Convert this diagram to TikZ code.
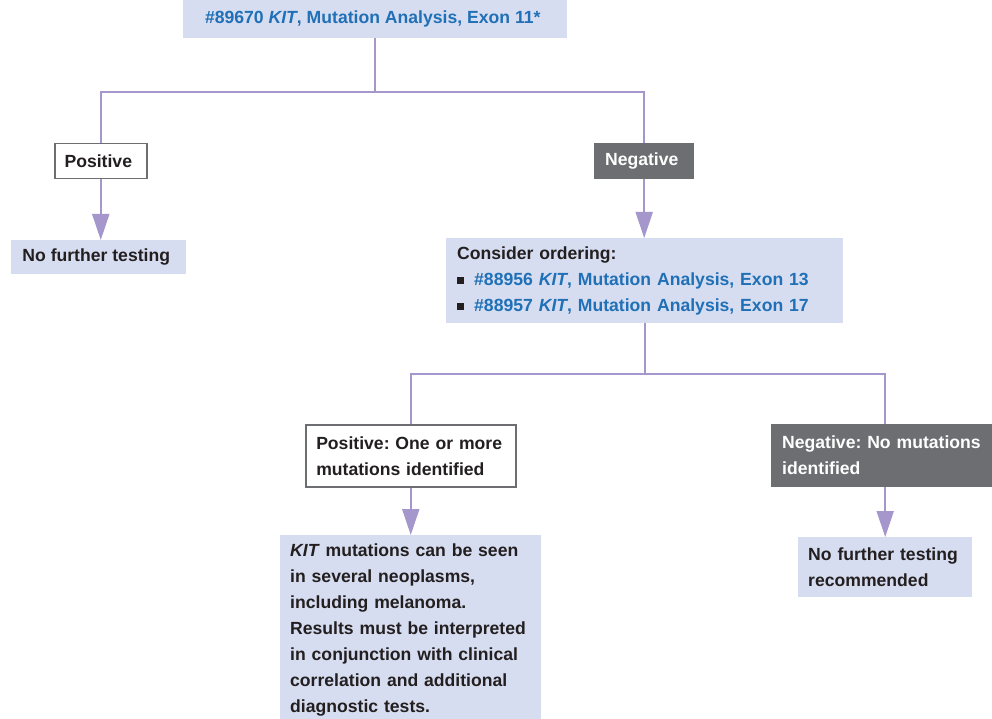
\documentclass[tikz,border=0pt]{standalone}
\usepackage{fontspec}
\setmainfont{Liberation Sans}
\usetikzlibrary{arrows.meta}

\definecolor{boxfill}{HTML}{D7DDF0}
\definecolor{testblue}{HTML}{1F70B6}
\definecolor{linkline}{HTML}{A597CC}
\definecolor{darkgrey}{HTML}{6D6E72}
\definecolor{inkblack}{HTML}{231F20}

\newcommand{\kit}{\textit{KIT}}
\newcommand{\bsq}{\rule[1pt]{7pt}{7pt}\hspace{10pt}}

\tikzset{
    basebox/.style={rectangle, anchor=north west, align=left, inner ysep=0pt,
        font=\fontsize{17.6}{26}\selectfont\bfseries\frenchspacing, text=inkblack},
    infobox/.style={basebox, fill=boxfill},
    whitebox/.style={basebox, fill=white, draw=darkgrey, line width=1.5pt},
    greybox/.style={basebox, fill=darkgrey, text=white},
    link/.style={draw=linkline, line width=2pt},
    arrowlink/.style={link, -{Triangle[width=17pt,length=26pt]}}
}

\begin{document}
\begin{tikzpicture}[x=1pt, y=-1pt]
    \useasboundingbox (0, 0) rectangle (992, 719);

    % first test
    \node[infobox, minimum width=384, minimum height=38, align=center, text=testblue] (exon11) at (183, 0)
        { \#89670 \kit, Mutation Analysis, Exon 11* };

    \node[whitebox, minimum width=92, minimum height=35, align=center] (pos1) at (54, 143) { Positive };
    \node[greybox, minimum width=100, minimum height=36, align=center] (neg1) at (594, 143) { Negative };

    \node[infobox, minimum width=175, minimum height=34, align=center] (stop1) at (11, 240)
        { No further testing };

    \node[infobox, inner xsep=11pt, text width=375, minimum height=85] (order) at (446, 238)
        { Consider ordering: \\
          \bsq{\color{testblue}\#88956 \kit, Mutation Analysis, Exon 13} \\
          \bsq{\color{testblue}\#88957 \kit, Mutation Analysis, Exon 17} };

    \node[whitebox, inner xsep=10.5pt, text width=189, minimum height=62] (pos2) at (305, 424)
        { Positive: One or more \\ mutations identified };
    \node[greybox, inner xsep=11pt, text width=199, minimum height=63] (neg2) at (771, 424)
        { Negative: No mutations \\ identified };

    \node[infobox, inner xsep=10pt, text width=241, minimum height=190] (note) at (280, 535)
        { \kit{} mutations can be seen \\
          in several neoplasms, \\
          including melanoma. \\
          Results must be interpreted \\
          in conjunction with clinical \\
          correlation and additional \\
          diagnostic tests. };
    \node[infobox, inner xsep=10pt, text width=154, minimum height=60] (stop2) at (798, 537)
        { No further testing \\ recommended };

    % connectors
    \coordinate (split1) at (375, 92);
    \coordinate (split2) at (645, 374);

    \draw[link] (exon11.south -| split1) -- (split1);
    \draw[link] (split1) -| (pos1.north);
    \draw[link] (split1) -| (neg1.north);
    \draw[arrowlink] (pos1.south) -- (pos1.south |- stop1.north);
    \draw[arrowlink] (neg1.south) -- (neg1.south |- order.north);

    \draw[link] (order.south -| split2) -- (split2);
    \draw[link] (split2) -| (pos2.north);
    \draw[link] (split2) -| (stop2.north |- neg2.north);
    \draw[arrowlink] (pos2.south) -- (pos2.south |- note.north);
    \draw[arrowlink] (stop2.north |- neg2.south) -- (stop2.north);
\end{tikzpicture}
\end{document}
